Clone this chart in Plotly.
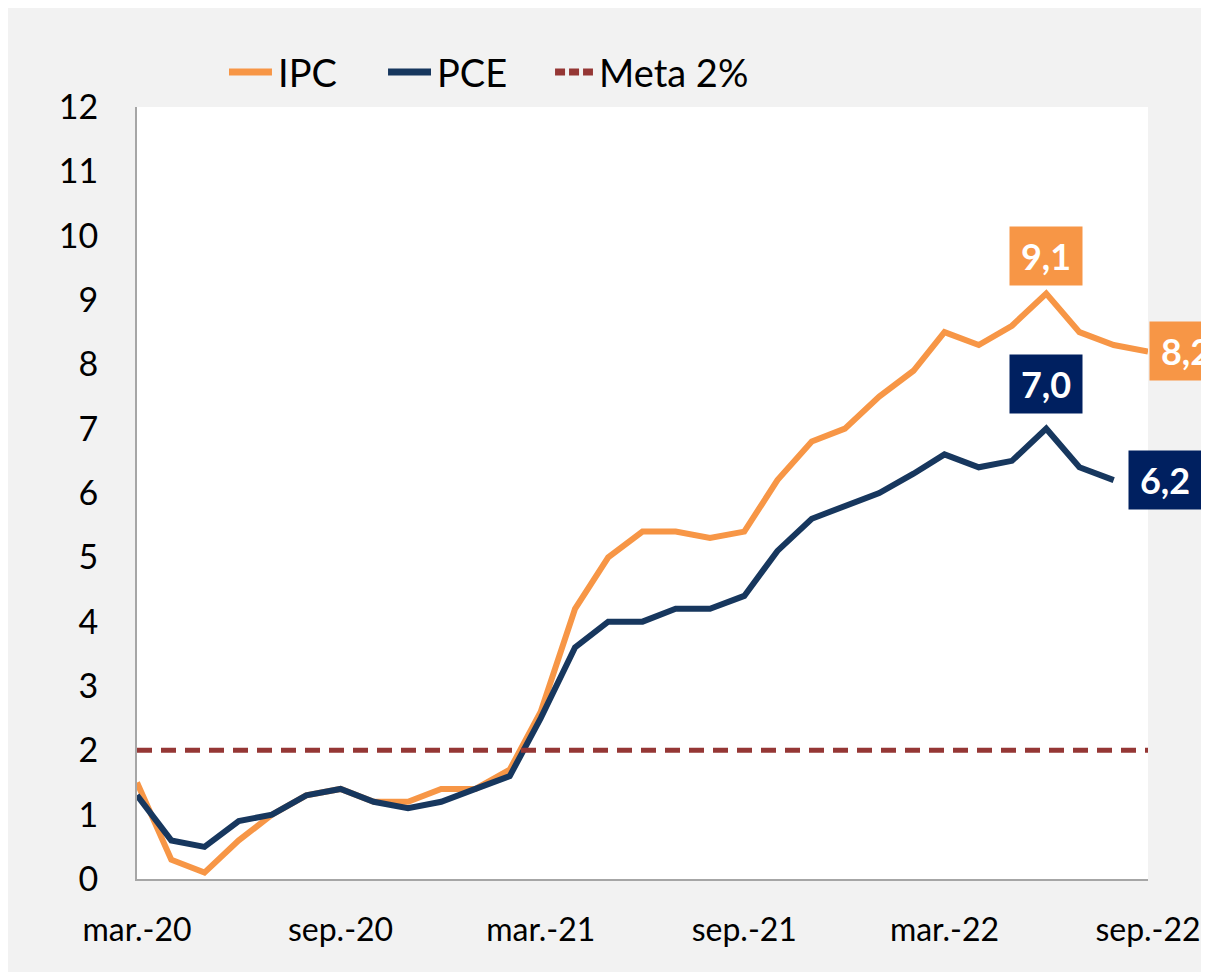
import plotly.graph_objects as go
import pandas as pd

# monthly inflation, mar-2020 .. sep-2022
months = pd.date_range("2020-03-01", "2022-09-01", freq="MS")
ipc = [1.5, 0.3, 0.1, 0.6, 1.0, 1.3, 1.4, 1.2, 1.2, 1.4, 1.4, 1.7,
       2.6, 4.2, 5.0, 5.4, 5.4, 5.3, 5.4, 6.2, 6.8, 7.0, 7.5, 7.9,
       8.5, 8.3, 8.6, 9.1, 8.5, 8.3, 8.2]
pce = [1.3, 0.6, 0.5, 0.9, 1.0, 1.3, 1.4, 1.2, 1.1, 1.2, 1.4, 1.6,
       2.5, 3.6, 4.0, 4.0, 4.2, 4.2, 4.4, 5.1, 5.6, 5.8, 6.0, 6.3,
       6.6, 6.4, 6.5, 7.0, 6.4, 6.2]
meta = [2.0] * len(months)

tick_dates = ["2020-03-01", "2020-09-01", "2021-03-01",
              "2021-09-01", "2022-03-01", "2022-09-01"]
tick_text = ["mar.-20", "sep.-20", "mar.-21", "sep.-21", "mar.-22", "sep.-22"]

ORANGE = "#F79646"
NAVY = "#17375E"
NAVY_BOX = "#002060"
RED = "#953735"
FONT = "Lato"


def fmt(v):
    return f"{v:.1f}".replace(".", ",")


fig = go.Figure()
fig.add_trace(go.Scatter(x=months, y=ipc, name="IPC", mode="lines",
                         line=dict(color=ORANGE, width=6)))
fig.add_trace(go.Scatter(x=months[:len(pce)], y=pce, name="PCE", mode="lines",
                         line=dict(color=NAVY, width=6)))
fig.add_trace(go.Scatter(x=months, y=meta, name="Meta 2%", mode="lines",
                         line=dict(color=RED, width=5, dash="15px,9px")))

# value labels
i_ipc_max = ipc.index(max(ipc))
i_pce_max = pce.index(max(pce))
box = dict(showarrow=False, width=72, height=58, borderpad=0,
           font=dict(family=FONT, size=36, color="white"))
fig.add_annotation(x=months[i_ipc_max], y=ipc[i_ipc_max], text=f"<b>{fmt(ipc[i_ipc_max])}</b>",
                   xanchor="center", yanchor="bottom", yshift=8, bgcolor=ORANGE, **box)
fig.add_annotation(x=months[-1], y=ipc[-1], text=f"<b>{fmt(ipc[-1])}</b>",
                   xanchor="left", yanchor="middle", xshift=1, bgcolor=ORANGE, **box)
fig.add_annotation(x=months[i_pce_max], y=pce[i_pce_max], text=f"<b>{fmt(pce[i_pce_max])}</b>",
                   xanchor="center", yanchor="bottom", yshift=15, bgcolor=NAVY_BOX, **box)
fig.add_annotation(x=months[len(pce) - 1], y=pce[-1], text=f"<b>{fmt(pce[-1])}</b>",
                   xanchor="left", yanchor="middle", xshift=14, bgcolor=NAVY_BOX, **box)

# legend drawn by hand across the top
legend_items = [("IPC", ORANGE, "solid", 0.091, 0.1335),
                ("PCE", NAVY, "solid", 0.2483, 0.2908),
                ("Meta 2%", RED, "10px,4px", 0.4135, 0.4510)]
for name, color, dash, x0, x1 in legend_items:
    fig.add_shape(type="line", xref="paper", yref="paper", x0=x0, x1=x1,
                  y0=1.0453, y1=1.0453, line=dict(color=color, width=7, dash=dash))
    fig.add_annotation(xref="paper", yref="paper", x=x1, y=1.0453, text=name,
                       showarrow=False, xanchor="left", yanchor="middle", xshift=4,
                       font=dict(family=FONT, size=38, color="black"))

fig.update_layout(
    width=1193, height=964,
    margin=dict(l=129, r=53, t=99, b=93, autoexpand=False),
    paper_bgcolor="#f2f2f2",
    plot_bgcolor="white",
    font=dict(family=FONT, size=34, color="black"),
    showlegend=False,
    xaxis=dict(range=[months[0], months[-1]], tickvals=tick_dates, ticktext=tick_text,
               tickfont=dict(size=32),
               showgrid=False, zeroline=False, showline=True, linecolor="#a6a6a6",
               linewidth=2, ticks="", ticklabelstandoff=22, ticklabeloverflow="allow",
               automargin=False),
    yaxis=dict(range=[0, 12], tickvals=list(range(13)), showgrid=False, zeroline=False,
               showline=True, linecolor="#a6a6a6", linewidth=2, ticks="",
               ticklabelstandoff=30, automargin=False),
)

fig.write_html("out.html")
